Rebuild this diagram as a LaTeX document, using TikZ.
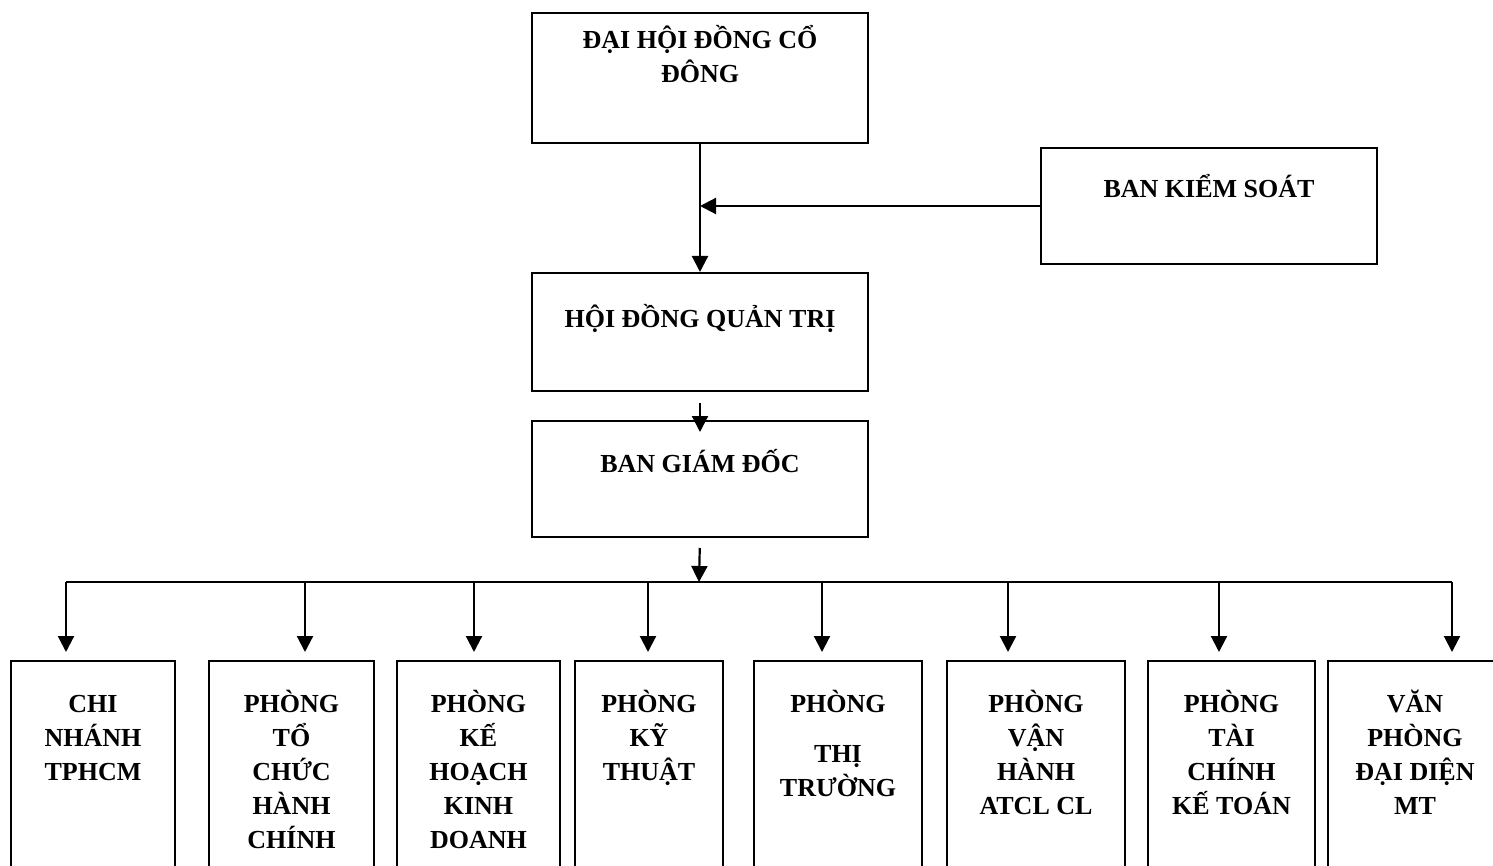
\documentclass[tikz,border=0pt]{standalone}
\usepackage{fontspec}
\setmainfont{Liberation Serif}
\usetikzlibrary{arrows.meta}
\newcommand{\ml}[1]{\renewcommand{\arraystretch}{1}\begin{tabular}[t]{@{}c@{}}#1\end{tabular}}
\begin{document}
\begin{tikzpicture}[x=1pt,y=-1pt,
  box/.style={draw,line width=2pt,rectangle,inner sep=0pt,anchor=north west},
  lbl/.style={anchor=base,inner sep=0pt,font=\fontsize{26}{34}\selectfont\bfseries},
  conn/.style={line width=2.2pt,-{Triangle[length=16pt,width=16pt]}},
  wire/.style={line width=2.2pt},
]
\useasboundingbox (0,0) rectangle (1493,866);

% top boxes
\node[box,minimum width=336pt,minimum height=130pt] (dhcd) at (531,12) {};
\node[box,minimum width=336pt,minimum height=116pt] (bks) at (1040,147) {};
\node[box,minimum width=336pt,minimum height=118pt] (hdqt) at (531,272) {};
\node[box,minimum width=336pt,minimum height=116pt] (bgd) at (531,420) {};

\node[lbl] (tdhcd) at ([yshift=-37pt]dhcd.north) {\ml{ĐẠI HỘI ĐỒNG CỔ\\ĐÔNG}};
\node[lbl] (tbks) at ([yshift=-51pt]bks.north) {BAN KIỂM SOÁT};
\node[lbl] (thdqt) at ([yshift=-56pt]hdqt.north) {HỘI ĐỒNG QUẢN TRỊ};
\node[lbl] (tbgd) at ([yshift=-52pt]bgd.north) {BAN GIÁM ĐỐC};

% bottom boxes
\node[box,minimum width=164pt,minimum height=230pt] (b1) at (10,660) {};
\node[box,minimum width=165pt,minimum height=230pt] (b2) at (208,660) {};
\node[box,minimum width=163pt,minimum height=230pt] (b3) at (396,660) {};
\node[box,minimum width=148pt,minimum height=230pt] (b4) at (574,660) {};
\node[box,minimum width=168pt,minimum height=230pt] (b5) at (753,660) {};
\node[box,minimum width=178pt,minimum height=230pt] (b6) at (946,660) {};
\node[box,minimum width=167pt,minimum height=230pt] (b7) at (1147,660) {};
\node[box,minimum width=200pt,minimum height=230pt] (b8) at (1327,660) {};

\node[lbl] (t1) at ([yshift=-52pt]b1.north) {\ml{CHI\\NHÁNH\\TPHCM}};
\node[lbl] (t2) at ([yshift=-52pt]b2.north) {\ml{PHÒNG\\TỔ\\CHỨC\\HÀNH\\CHÍNH}};
\node[lbl] (t3) at ([yshift=-52pt]b3.north) {\ml{PHÒNG\\KẾ\\HOẠCH\\KINH\\DOANH}};
\node[lbl] (t4) at ([yshift=-52pt]b4.north) {\ml{PHÒNG\\KỸ\\THUẬT}};
\node[lbl] (t5a) at ([yshift=-52pt]b5.north) {PHÒNG};
\node[lbl] (t5b) at ([yshift=-102pt]b5.north) {\ml{THỊ\\TRƯỜNG}};
\node[lbl] (t6) at ([yshift=-52pt]b6.north) {\ml{PHÒNG\\VẬN\\HÀNH\\ATCL CL}};
\node[lbl] (t7) at ([yshift=-52pt]b7.north) {\ml{PHÒNG\\TÀI\\CHÍNH\\KẾ TOÁN}};
\node[lbl] (t8) at ([xshift=-13pt,yshift=-52pt]b8.north) {\ml{VĂN\\PHÒNG\\ĐẠI DIỆN\\MT}};

% connectors
\draw[conn] (dhcd.south) -- (hdqt.north);
\draw[conn] (bks.west) -- (bks.west -| dhcd.south);
\draw[conn,shorten <=11pt,shorten >=-12pt] (hdqt.south) -- (bgd.north);

\coordinate (bar) at (699,582);
\coordinate (d1) at (66,582);
\coordinate (d2) at (305,582);
\coordinate (d3) at (474,582);
\coordinate (d4) at (648,582);
\coordinate (d5) at (822,582);
\coordinate (d6) at (1008,582);
\coordinate (d7) at (1219,582);
\coordinate (d8) at (1452,582);

\draw[conn,shorten <=10pt] (bgd.south) -- (bar);
\draw[wire] (d1) -- (d8);
\foreach \i in {1,...,8}{
  \draw[conn,shorten >=8pt] (d\i) -- (d\i |- b\i.north);
}
\end{tikzpicture}
\end{document}
